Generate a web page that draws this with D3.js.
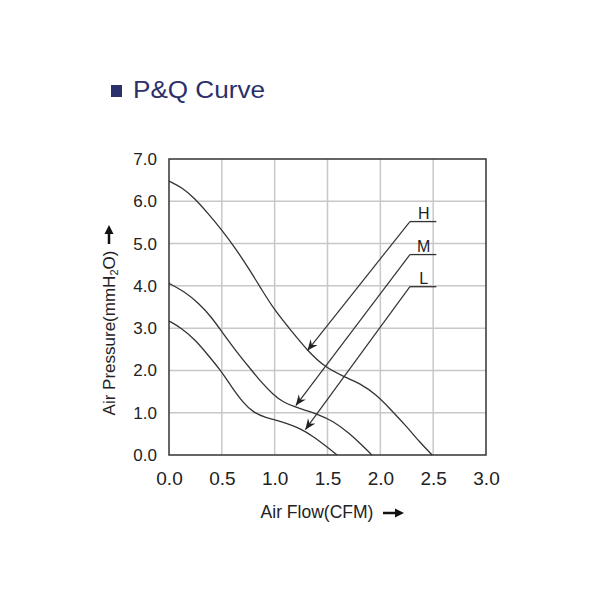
<!DOCTYPE html>
<html><head><meta charset="utf-8">
<script src="https://cdn.jsdelivr.net/npm/d3@7"></script>
<style>body{margin:0;background:#fff}svg{font-family:"Liberation Sans",Arial,sans-serif}</style>
</head><body>
<svg id="c" width="600" height="600"></svg>
<script>
const xTicks = [0.0, 0.5, 1.0, 1.5, 2.0, 2.5, 3.0];
const yTicks = [0.0, 1.0, 2.0, 3.0, 4.0, 5.0, 6.0, 7.0];
const seriesNames = ["H", "M", "L"];
const hFlow = [0.0, 0.12, 0.24, 0.37, 0.50, 0.62, 0.75, 0.88, 1.0, 1.16, 1.32, 1.48, 1.65, 1.81, 1.96, 2.09, 2.25, 2.37, 2.49];
const hPress = [6.48, 6.33, 6.08, 5.71, 5.32, 4.92, 4.43, 3.90, 3.42, 2.93, 2.44, 2.07, 1.86, 1.69, 1.43, 1.10, 0.67, 0.31, 0.0];
const mFlow = [0.0, 0.15, 0.28, 0.40, 0.51, 0.64, 0.77, 0.88, 0.99, 1.08, 1.19, 1.30, 1.40, 1.55, 1.71, 1.84, 1.92];
const mPress = [4.06, 3.86, 3.59, 3.27, 2.88, 2.44, 2.04, 1.70, 1.42, 1.25, 1.14, 1.05, 0.97, 0.81, 0.51, 0.20, 0.0];
const lFlow = [0.0, 0.12, 0.25, 0.37, 0.48, 0.59, 0.70, 0.80, 0.92, 1.02, 1.11, 1.24, 1.37, 1.49, 1.59];
const lPress = [3.17, 3.0, 2.72, 2.36, 2.03, 1.62, 1.24, 1.0, 0.88, 0.82, 0.75, 0.63, 0.43, 0.20, 0.0];
// label anchor (flow, pressure) and arrow tip (flow, pressure)
const labelAt = [[2.28, 5.52], [2.28, 4.74], [2.28, 3.98]];
const arrowTip = [[1.31, 2.47], [1.20, 1.17], [1.29, 0.60]];

const svg = d3.select("#c");
const L = 169, R = 486, T = 159, B = 455;
const x = d3.scaleLinear().domain([0, 3]).range([L, R]);
const y = d3.scaleLinear().domain([0, 7]).range([B, T]);

svg.append("defs").append("marker").attr("id", "ah").attr("viewBox", "0 0 12 10")
  .attr("refX", 12).attr("refY", 5).attr("markerWidth", 12).attr("markerHeight", 9)
  .attr("markerUnits", "userSpaceOnUse").attr("orient", "auto")
  .append("path").attr("d", "M0,0 L12,5 L0,10 L4,5 Z").attr("fill", "#222");

// title
svg.append("rect").attr("x", 111).attr("y", 85).attr("width", 11).attr("height", 12).attr("fill", "#2b2f6b");
svg.append("text").attr("x", 133).attr("y", 98).attr("font-size", 24).attr("fill", "#2b2f6b")
  .attr("textLength", 132).attr("lengthAdjust", "spacingAndGlyphs").text("P&Q Curve");

// grid
const g = svg.append("g");
g.selectAll(".gx").data(xTicks.slice(1, -1)).join("line")
  .attr("x1", d => x(d)).attr("x2", d => x(d)).attr("y1", T).attr("y2", B)
  .attr("stroke", "#c8c8c8").attr("stroke-width", 1.5);
g.selectAll(".gy").data(yTicks.slice(1, -1)).join("line")
  .attr("y1", d => y(d)).attr("y2", d => y(d)).attr("x1", L).attr("x2", R)
  .attr("stroke", "#c8c8c8").attr("stroke-width", 1.5);
svg.append("rect").attr("x", L).attr("y", T).attr("width", R - L).attr("height", B - T)
  .attr("fill", "none").attr("stroke", "#333").attr("stroke-width", 1.5);

// axes (tick labels)
const xa = svg.append("g").attr("transform", `translate(0,${B})`)
  .call(d3.axisBottom(x).tickValues(xTicks).tickFormat(d3.format(".1f")).tickSize(0).tickPadding(17));
const ya = svg.append("g").attr("transform", `translate(${L},0)`)
  .call(d3.axisLeft(y).tickValues(yTicks).tickFormat(d3.format(".1f")).tickSize(0).tickPadding(12));
[xa, ya].forEach(a => {
  a.select(".domain").remove();
  a.selectAll("text").attr("fill", "#222").attr("font-family", "Liberation Sans, Arial, sans-serif");
});
xa.selectAll("text").attr("font-size", 19);
ya.selectAll("text").attr("font-size", 17);

// axis titles
svg.append("text").attr("x", 317).attr("y", 518).attr("text-anchor", "middle").attr("font-size", 17.5).attr("fill", "#222")
  .text("Air Flow(CFM)");
svg.append("path").attr("d", "M383,513 L398,513").attr("stroke", "#111").attr("stroke-width", 2.5);
svg.append("path").attr("d", "M395,508.5 L404,513 L395,517.5 Z").attr("fill", "#111");

const yt = svg.append("text").attr("transform", `translate(115,333) rotate(-90)`).attr("text-anchor", "middle")
  .attr("font-size", 17).attr("fill", "#222");
yt.append("tspan").text("Air Pressure(mmH");
yt.append("tspan").attr("font-size", 11).attr("dy", 3).text("2");
yt.append("tspan").attr("dy", -3).text("O)");
svg.append("path").attr("d", "M109,244 L109,232").attr("stroke", "#111").attr("stroke-width", 2.5);
svg.append("path").attr("d", "M104.5,234 L109,225 L113.5,234 Z").attr("fill", "#111");

// curves
const series = [[hFlow, hPress], [mFlow, mPress], [lFlow, lPress]];
const line = d3.line().x(d => x(d[0])).y(d => y(d[1])).curve(d3.curveBasis);
series.forEach(([f, p]) => {
  svg.append("path").datum(f.map((v, i) => [v, p[i]])).attr("d", line)
    .attr("fill", "none").attr("stroke", "#333").attr("stroke-width", 1.3);
});

// labels and arrows
seriesNames.forEach((n, i) => {
  const [lx, ly] = labelAt[i];
  svg.append("line").attr("x1", x(lx)).attr("x2", x(lx + 0.25)).attr("y1", y(ly)).attr("y2", y(ly))
    .attr("stroke", "#333").attr("stroke-width", 1.3);
  svg.append("line").attr("x1", x(lx)).attr("y1", y(ly)).attr("x2", x(arrowTip[i][0])).attr("y2", y(arrowTip[i][1]))
    .attr("stroke", "#333").attr("stroke-width", 1.2).attr("marker-end", "url(#ah)");
  svg.append("text").attr("x", x(lx + 0.13)).attr("y", y(ly) - 3).attr("text-anchor", "middle")
    .attr("font-size", 16).attr("fill", "#222").text(n);
});
</script>
</body></html>
